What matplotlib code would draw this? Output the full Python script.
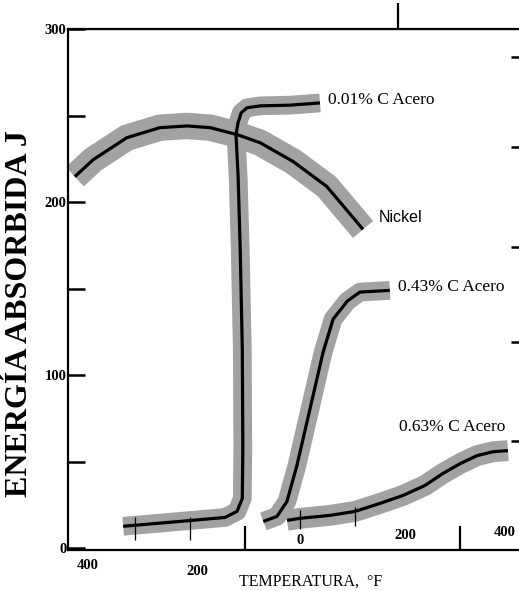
import matplotlib
matplotlib.use("Agg")
from matplotlib import pyplot as plt

# curves (temperature °F, energy J)
ni_t = [-429, -394, -330, -267, -215, -171, -120, -76, -13, 51, 120]
ni_e = [214.7, 224.5, 237.2, 243, 244, 243, 239, 234.3, 223.4, 209, 184.2]

c01_t = [-337, -229, -143, -120, -110, -109, -110, -114, -118, -122, -118, -112, -101, -76, -19, 38]
c01_e = [12.7, 15.5, 17.8, 21.3, 28.8, 57.6, 115, 173, 215, 239, 246, 251.6, 254.5, 255.6, 256, 257.3]

c43_t = [-70, -44, -25, -6, 19, 44, 63, 90, 114, 171]
c43_e = [15.5, 18.4, 27, 47.8, 80.6, 113.4, 132.4, 142.8, 148, 149]

c63_t = [-25, 0, 57, 105, 152, 196, 238, 272, 305, 337, 368, 396]
c63_e = [16.1, 17.3, 19, 21.3, 25.9, 30.5, 36.3, 43.2, 48.9, 53.5, 55.8, 56.4]

labels = ["0.01% C Acero", "Nickel", "0.43% C Acero", "0.63% C Acero"]
label_t = [53, 149, 187, 189]
label_e = [259, 191, 151, 70]

y_ticks = [0, 50, 100, 150, 200, 250, 300]
y_ticklabels = ["0", "", "100", "", "200", "", "300"]
right_ticks = [62, 119, 174, 232, 284]
bottom_ticks = [-105, 305]
top_ticks = [187]
x_labels = ["400", "200", "0", "200", "400"]
x_label_t = [-405, -196, 0, 200, 390]
x_label_off = [-0.029, -0.042, 0.018, 0.028, 0.034]
curve_marks_t = [-314, -210, 0, 105]
curve_marks_lo = [5, 5, 11, 13]
curve_marks_hi = [18, 18, 22, 24]

serif = "Liberation Serif"
band = "#a2a2a2"

fig = plt.figure(figsize=(5.19, 5.91), dpi=100)
ax = fig.add_axes([0.131, 0.0694, 0.869, 0.8815])
ax.set_xlim(-442, 417)
ax.set_ylim(-1, 300)

curves = [(ni_t, ni_e, 19), (c01_t, c01_e, 13.5), (c43_t, c43_e, 13.5), (c63_t, c63_e, 15)]
for t, e, w in curves:
    ax.plot(t, e, color=band, lw=w, solid_capstyle="butt", solid_joinstyle="round", zorder=2)
for t, e, w in curves:
    ax.plot(t, e, color="black", lw=2.3, solid_capstyle="butt", solid_joinstyle="round", zorder=3)

ax.vlines(curve_marks_t, curve_marks_lo, curve_marks_hi, color="black", lw=0.9, zorder=4)

for s, t, e in zip(labels, label_t, label_e):
    if s == "Nickel":
        ax.text(t, e, s, family="Liberation Sans", fontsize=11.5, va="center", ha="left")
    else:
        ax.text(t, e, s, family=serif, fontsize=12.5, va="center", ha="left")

for s, t, off in zip(x_labels, x_label_t, x_label_off):
    ax.text(t, off, s, transform=ax.get_xaxis_transform(), family=serif,
            fontweight="bold", fontsize=10.5, ha="center", va="center")

ax.spines["right"].set_visible(False)
for sp in ["left", "bottom", "top"]:
    ax.spines[sp].set_linewidth(1.6)

ax.set_yticks(y_ticks)
ax.set_yticklabels(y_ticklabels, family=serif, fontweight="bold", fontsize=10.5)
ax.tick_params(axis="y", direction="in", length=12, width=1.8, pad=1)
ax.set_xticks(bottom_ticks)
ax.set_xticklabels([])
ax.tick_params(axis="x", direction="in", length=17, width=1.6)

top = ax.secondary_xaxis("top")
top.set_xticks(top_ticks)
top.set_xticklabels([])
top.tick_params(direction="out", length=19, width=1.6)

ax2 = ax.twinx()
ax2.set_ylim(ax.get_ylim())
ax2.set_yticks(right_ticks)
ax2.set_yticklabels([])
ax2.tick_params(direction="in", length=6, width=1.8)
for sp in ax2.spines.values():
    sp.set_visible(False)

ax.set_ylabel("ENERGÍA ABSORBIDA J", family=serif, fontweight="bold", fontsize=23)
ax.yaxis.set_label_coords(-0.075, 0.453)
ax.set_xlabel("TEMPERATURA,  °F", family=serif, fontsize=11.5)
ax.xaxis.set_label_coords(0.539, -0.046)

fig.savefig("out.png", dpi=100)
